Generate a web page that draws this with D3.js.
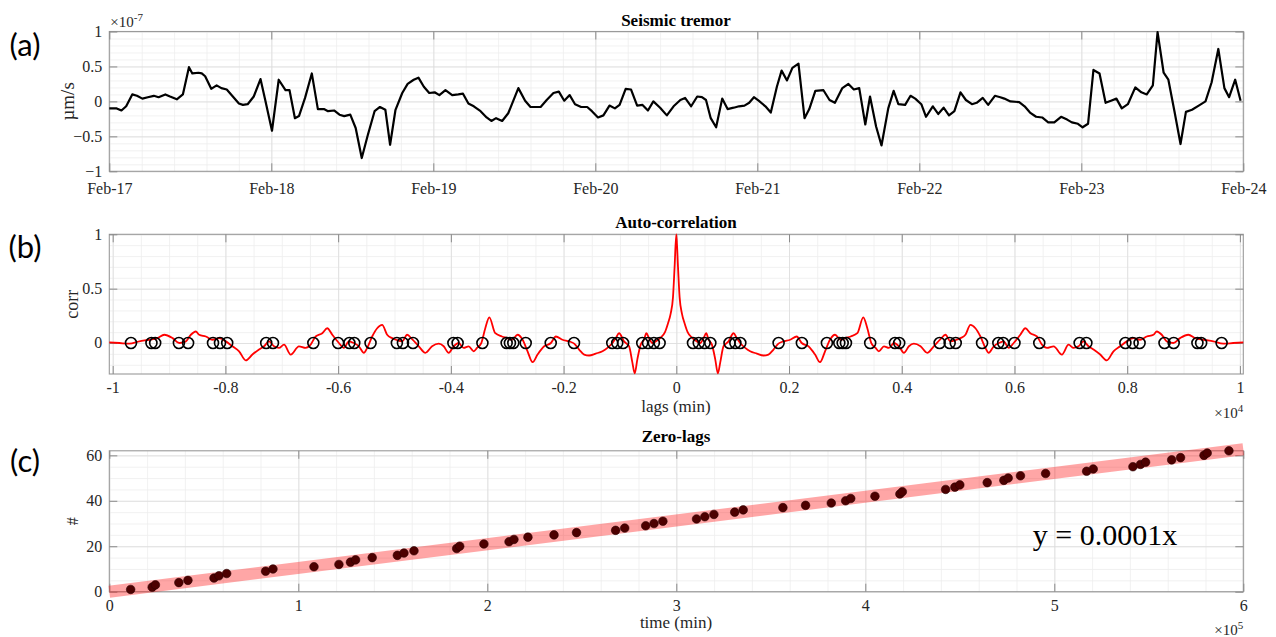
<!DOCTYPE html>
<html>
<head>
<meta charset="utf-8">
<script src="https://cdn.jsdelivr.net/npm/d3@7/dist/d3.min.js"></script>
<style>
  body { margin: 0; background: #fff; }
  svg { display: block; }
  .tick text { font-family: "Liberation Serif", serif; font-size: 16px; fill: #262626; }
  .grid-major line { stroke: #dcdcdc; stroke-width: 0.8; }
  .grid-minor line { stroke: #eeeeee; stroke-width: 0.8; }
  .grid-major path, .grid-minor path, .ticks path { display: none; }
  .ticks line { stroke: #8a8a8a; stroke-width: 1; }
</style>
</head>
<body>
<svg id="fig" width="1276" height="637"></svg>
<script>
// ---------- (a) Seismic tremor, hours after Feb-17 00:00, amplitude in 1e-7 µm/s ----------
const tremorHours = [0,1.1,1.8,2.5,3.4,4.1,4.9,5.7,6.6,7.3,8.3,9.0,10.0,10.9,11.8,12.3,13.2,13.7,14.2,15.1,15.9,16.6,17.4,18.3,19.2,19.8,20.5,21.4,22.4,23.1,24.1,25.1,26.1,26.7,27.5,28.1,29.0,30.0,30.9,31.8,32.4,33.3,34.1,34.8,35.7,36.5,37.4,38.3,39.3,40.1,40.9,41.6,42.4,43.4,44.2,45.1,45.8,46.6,47.4,48.2,48.9,49.8,50.8,51.7,52.4,53.2,54.0,55.0,55.9,56.6,57.3,58.2,59.1,60.6,61.6,62.4,63.9,64.8,65.8,66.6,67.4,68.2,69.0,69.9,70.8,71.5,72.4,73.2,74.1,74.9,75.6,76.5,77.3,78.2,79.0,79.8,80.6,81.6,82.6,83.6,84.6,85.3,86.2,87.1,87.8,88.4,89.1,89.9,90.8,91.6,92.5,93.3,94.1,94.8,95.5,96.2,97.2,98.0,98.9,99.6,100.4,101.2,102.1,103.0,103.7,104.6,105.8,106.7,107.5,108.6,109.5,110.3,111.1,112.0,112.7,113.6,114.4,115.4,116.2,116.9,117.9,118.7,119.4,120.3,121.0,122.0,122.8,123.6,124.4,125.2,126.1,126.9,127.8,128.5,129.4,130.2,131.2,132.0,132.6,133.5,134.8,135.6,136.4,137.3,138.2,139.1,140.0,141.0,141.9,142.6,143.5,144.2,145.0,145.8,146.7,147.6,148.4,149.2,150.0,150.9,152.0,152.9,153.7,154.6,155.3,156.2,156.9,157.8,158.7,159.5,160.4,161.4,162.4,163.3,164.3,165.2,165.9,166.8,167.6];
const tremorValues = [-0.10,-0.10,-0.13,-0.07,0.10,0.08,0.04,0.06,0.08,0.06,0.10,0.07,0.03,0.10,0.49,0.40,0.41,0.40,0.36,0.18,0.23,0.19,0.17,0.07,-0.03,-0.05,-0.04,0.07,0.32,0.02,-0.42,0.31,0.16,0.16,-0.24,-0.21,0.05,0.40,-0.11,-0.11,-0.14,-0.13,-0.19,-0.21,-0.19,-0.38,-0.81,-0.48,-0.14,-0.08,-0.12,-0.62,-0.12,0.12,0.25,0.31,0.34,0.21,0.12,0.13,0.09,0.16,0.09,0.10,0.11,-0.03,-0.07,-0.14,-0.23,-0.28,-0.24,-0.28,-0.17,0.19,0.01,-0.08,-0.08,0.02,0.12,0.14,0.01,0.09,-0.04,-0.08,-0.08,-0.14,-0.23,-0.20,-0.06,-0.10,-0.05,0.18,0.17,-0.06,-0.05,-0.13,0.00,-0.09,-0.20,-0.07,0.02,0.05,-0.07,0.07,0.06,0.02,-0.24,-0.37,0.04,-0.11,-0.09,-0.07,-0.06,-0.02,0.06,0.01,-0.07,-0.16,0.21,0.44,0.30,0.48,0.54,-0.24,-0.11,0.15,0.16,0.02,-0.02,0.19,0.25,0.17,0.19,-0.33,0.07,-0.36,-0.63,-0.10,0.15,-0.04,-0.05,0.08,0.04,-0.04,-0.22,-0.07,-0.18,-0.09,-0.20,-0.14,0.13,0.02,-0.04,-0.02,0.05,-0.05,0.08,0.06,0.04,0.00,-0.01,-0.07,-0.16,-0.22,-0.23,-0.30,-0.30,-0.22,-0.26,-0.30,-0.32,-0.37,-0.32,0.45,0.40,-0.02,0.01,0.04,-0.10,-0.04,0.20,0.13,0.10,0.23,0.99,0.41,0.31,-0.14,-0.61,-0.15,-0.12,-0.06,0.00,0.27,0.75,0.19,0.06,0.31,0.01];
const dayLabels = ["Feb-17","Feb-18","Feb-19","Feb-20","Feb-21","Feb-22","Feb-23","Feb-24"];
const tremorYTicks = [-1,-0.5,0,0.5,1];

// ---------- (b) Auto-correlation, non-negative lags in minutes (the function is even in lag) ----------
const corrLags = [0,30,59,100,148,201,277,366,425,484,531,573,632,691,738,779,838,927,1015,1074,1133,1222,1310,1429,1547,1635,1724,1812,1901,2019,2137,2225,2344,2462,2550,2639,2727,2816,2917,3000,3094,3212,3318,3389,3460,3536,3595,3684,3773,3861,3950,4038,4127,4215,4333,4451,4569,4688,4776,4865,4971,5042,5130,5219,5307,5396,5484,5543,5632,5721,5809,5898,5986,6104,6193,6281,6399,6488,6576,6695,6842,6960,7049,7137,7226,7314,7403,7521,7639,7757,7875,7993,8111,8229,8347,8465,8525,8613,8702,8820,8938,9085,9204,9351,9528,9705,9882,10060];
const corrValues = [1.0,0.70,0.42,0.27,0.18,0.10,0.05,0.015,0.0,0.045,0.09,0.03,-0.015,-0.15,-0.28,-0.18,-0.03,0.015,0.09,0.045,0.0,-0.045,-0.076,-0.097,-0.115,-0.106,-0.06,-0.006,0.015,0.03,0.06,0.0,-0.03,-0.106,-0.176,-0.076,0.03,0.076,0.03,0.045,0.06,0.09,0.236,0.136,0.0,-0.045,-0.076,-0.03,-0.045,0.0,-0.03,-0.09,-0.03,-0.006,-0.03,-0.09,-0.03,0.036,0.076,0.015,0.03,0.045,0.076,0.167,0.136,0.06,-0.045,-0.09,-0.03,0.0,0.015,-0.045,0.0,0.076,0.136,0.09,0.06,-0.015,-0.045,-0.03,-0.106,-0.015,-0.045,-0.03,0.015,-0.03,-0.06,-0.106,-0.16,-0.076,-0.03,0.015,0.045,0.03,0.06,0.076,0.106,0.076,0.015,0.0,0.045,0.076,0.045,0.03,0.015,-0.006,0.0,0.006];
const zeroLagsNeg = [-9675,-9312,-9246,-8825,-8662,-8220,-8096,-7968,-7276,-7156,-6440,-6000,-5800,-5714,-5425,-4958,-4850,-4672,-3955,-3880,-3440,-3010,-2952,-2892,-2672,-2228,-1815,-1136,-1048,-944,-604,-502,-398,-296];
const zeroLagsPos = [296,398,502,604,944,1048,1136,1815,2228,2672,2892,2952,3010,3440,3880,3955,4672,4850,4958,5425,5714,5800,6000,6440,7156,7276,7968,8096,8220,8662,8825,9246,9312,9675];
const lagTicks = [-10000,-8000,-6000,-4000,-2000,0,2000,4000,6000,8000,10000];
const lagTickLabels = ["-1","-0.8","-0.6","-0.4","-0.2","0","0.2","0.4","0.6","0.8","1"];
const corrYTicks = [0,0.5,1];

// ---------- (c) Zero-lags: cumulative count against time (min) ----------
const zeroLagTimes = [11300,22700,24400,36800,41600,55400,58000,62100,82700,86600,108300,121500,127600,130300,139100,152400,155900,161200,183800,185400,198200,211500,214100,221500,235300,247200,267900,272700,283800,288200,292900,310700,315100,319900,330900,335400,356400,368400,382000,389600,392300,405100,418300,419600,442500,447400,450000,464500,473300,475600,482100,495400,517100,520600,541600,545600,548300,562100,566800,579200,580900,592400];
const zeroLagCounts = [1,2,3,4,5,6,7,8,9,10,11,12,13,14,15,16,17,18,19,20,21,22,23,24,25,26,27,28,29,30,31,32,33,34,35,36,37,38,39,40,41,42,43,44,45,46,47,48,49,50,51,52,53,54,55,56,57,58,59,60,61,62];
const fitSlope = 1.045e-4;
const timeTicks = [0,100000,200000,300000,400000,500000,600000];
const timeTickLabels = ["0","1","2","3","4","5","6"];
const countTicks = [0,20,40,60];

// ---------- layout ----------
const svg = d3.select("#fig");
svg.append("rect").attr("width", 1276).attr("height", 637).attr("fill", "#fff");
const left = 109.3, right = 1243.3;
const serif = "'Liberation Serif', serif";

function panel(cfg) {
  const { top, bottom, x, y, xMajor, xMinor, yMajor, yMinor, xFmt, yFmt } = cfg;
  const xPad = cfg.xPad || 8;
  const h = bottom - top, w = right - left;
  const g = svg.append("g");
  // grid
  g.append("g").attr("class", "grid-minor").attr("transform", `translate(0,${bottom})`)
    .call(d3.axisBottom(x).tickValues(xMinor).tickSize(-h).tickFormat(""));
  g.append("g").attr("class", "grid-minor").attr("transform", `translate(${left},0)`)
    .call(d3.axisLeft(y).tickValues(yMinor).tickSize(-w).tickFormat(""));
  g.append("g").attr("class", "grid-major").attr("transform", `translate(0,${bottom})`)
    .call(d3.axisBottom(x).tickValues(xMajor).tickSize(-h).tickFormat(""));
  g.append("g").attr("class", "grid-major").attr("transform", `translate(${left},0)`)
    .call(d3.axisLeft(y).tickValues(yMajor).tickSize(-w).tickFormat(""));
  // box
  g.append("rect").attr("x", left).attr("y", top).attr("width", w).attr("height", h)
    .attr("fill", "none").attr("stroke", "#9a9a9a").attr("stroke-width", 1.1);
  // ticks
  g.append("g").attr("class", "ticks").attr("transform", `translate(0,${bottom})`)
    .call(d3.axisBottom(x).tickValues(xMajor).tickSize(-8).tickPadding(xPad).tickFormat(xFmt))
    .selectAll("text").attr("dy", "0.71em");
  g.append("g").attr("class", "ticks").attr("transform", `translate(0,${top})`)
    .call(d3.axisTop(x).tickValues(xMajor).tickSize(-8).tickFormat(""));
  g.append("g").attr("class", "ticks").attr("transform", `translate(${left},0)`)
    .call(d3.axisLeft(y).tickValues(yMajor).tickSize(-8).tickPadding(7).tickFormat(yFmt))
    .selectAll("text").attr("dy", "0.3em");
  g.append("g").attr("class", "ticks").attr("transform", `translate(${right},0)`)
    .call(d3.axisRight(y).tickValues(yMajor).tickSize(-8).tickFormat(""));
  return g;
}

function text(x, yy, str, opts = {}) {
  return svg.append("text").attr("x", x).attr("y", yy).text(str)
    .attr("font-family", opts.family || serif)
    .attr("font-size", opts.size || 16)
    .attr("font-weight", opts.weight || "normal")
    .attr("fill", opts.fill || "#262626")
    .attr("text-anchor", opts.anchor || "middle");
}

function vlabel(x, yy, str, size) {
  svg.append("text").attr("transform", `translate(${x},${yy}) rotate(-90)`)
    .attr("text-anchor", "middle").attr("dominant-baseline", "central")
    .attr("font-family", serif).attr("font-size", size).attr("fill", "#262626").text(str);
}

function multiplier(x, yy, exp, anchor) {
  const ex = svg.append("text").attr("x", x).attr("y", yy).attr("text-anchor", anchor)
    .attr("font-family", serif).attr("font-size", 15).attr("fill", "#262626");
  ex.append("tspan").text("×10");
  ex.append("tspan").attr("dy", -6).attr("font-size", 11).text(exp);
}

// ===== (a) =====
{
  const top = 31.5, bottom = 171.3;
  const x = d3.scaleLinear().domain([0, 168]).range([left, right]);
  const y = d3.scaleLinear().domain([-1, 1]).range([bottom, top]);
  const dayHours = dayLabels.map((_, i) => i * 24);
  const g = panel({
    top, bottom, x, y, xPad: 11,
    xMajor: dayHours, xMinor: d3.range(0, 168.01, 4.8),
    yMajor: tremorYTicks, yMinor: d3.range(-1, 1.001, 0.1),
    xFmt: (d, i) => dayLabels[i], yFmt: d => d3.format("")(d)
  });
  g.append("path")
    .datum(d3.zip(tremorHours, tremorValues))
    .attr("fill", "none").attr("stroke", "#000").attr("stroke-width", 2.2)
    .attr("stroke-linejoin", "round")
    .attr("d", d3.line().x(d => x(d[0])).y(d => y(d[1])));
  text(676, 25.5, "Seismic tremor", { weight: "bold", fill: "#000", size: 17 });
  vlabel(67, (top + bottom) / 2, "µm/s", 19);
  multiplier(left + 1, 26.5, "-7", "start");
}

// ===== (b) =====
{
  const top = 234.3, bottom = 374;
  const x = d3.scaleLinear().domain([-10060, 10060]).range([left, right]);
  const y = d3.scaleLinear().domain([-0.285, 1]).range([bottom, top]);
  const g = panel({
    top, bottom, x, y,
    xMajor: lagTicks, xMinor: d3.range(-10000, 10001, 500),
    yMajor: corrYTicks, yMinor: d3.range(-0.2, 1.001, 0.1),
    xFmt: (d, i) => lagTickLabels[i], yFmt: d => d3.format("")(d)
  });
  // even function: negative lags carry the same values as positive lags
  const pts = d3.zip(corrLags, corrValues);
  const full = pts.slice(1).reverse().map(([l, c]) => [-l, c]).concat(pts);
  g.append("path").datum(full)
    .attr("fill", "none").attr("stroke", "#ff0000").attr("stroke-width", 1.8)
    .attr("stroke-linejoin", "round")
    .attr("d", d3.line().curve(d3.curveMonotoneX).x(d => x(d[0])).y(d => y(d[1])));
  g.selectAll("circle.zl").data(zeroLagsNeg.concat(zeroLagsPos)).join("circle")
    .attr("class", "zl")
    .attr("cx", d => x(d)).attr("cy", y(0)).attr("r", 5.5)
    .attr("fill", "none").attr("stroke", "#000").attr("stroke-width", 1.6);
  text(676, 228, "Auto-correlation", { weight: "bold", fill: "#000", size: 17 });
  vlabel(72, (top + bottom) / 2, "corr", 18);
  text(676, 411.5, "lags (min)", { size: 17 });
  multiplier(right, 418, "4", "end");
}

// ===== (c) =====
{
  const top = 450.8, bottom = 591.7;
  const x = d3.scaleLinear().domain([0, 600000]).range([left, right]);
  const y = d3.scaleLinear().domain([0, 62]).range([bottom, top]);
  panel({
    top, bottom, x, y,
    xMajor: timeTicks, xMinor: d3.range(0, 600001, 20000),
    yMajor: countTicks, yMinor: d3.range(0, 62, 5),
    xFmt: (d, i) => timeTickLabels[i], yFmt: d => d3.format("")(d)
  });
  // fitted trend, drawn as a wide translucent band
  const fitEnds = [0, 600000];
  svg.append("path").datum(fitEnds)
    .attr("fill", "none").attr("stroke", "#ff0000").attr("stroke-opacity", 0.35)
    .attr("stroke-width", 12)
    .attr("d", d3.line().x(d => x(d)).y(d => y(fitSlope * d)));
  svg.selectAll("circle.pt").data(d3.zip(zeroLagTimes, zeroLagCounts)).join("circle")
    .attr("class", "pt")
    .attr("cx", d => x(d[0])).attr("cy", d => y(d[1])).attr("r", 4.3)
    .attr("fill", "#4d0000").attr("stroke", "#2a0000").attr("stroke-width", 0.6);
  text(1105, 545, `y = ${d3.format(".1r")(fitSlope)}x`, { size: 30, fill: "#000" });
  text(676, 442, "Zero-lags", { weight: "bold", fill: "#000", size: 17 });
  vlabel(72, (top + bottom) / 2, "#", 16);
  text(676, 627.5, "time (min)", { size: 17 });
  multiplier(right, 635, "5", "end");
}

// panel letters
const sans = "Lato, 'Open Sans', sans-serif";
text(25, 56, "(a)", { family: sans, size: 31, fill: "#000" });
text(25, 258, "(b)", { family: sans, size: 31, fill: "#000" });
text(25, 472, "(c)", { family: sans, size: 31, fill: "#000" });
</script>
</body>
</html>
